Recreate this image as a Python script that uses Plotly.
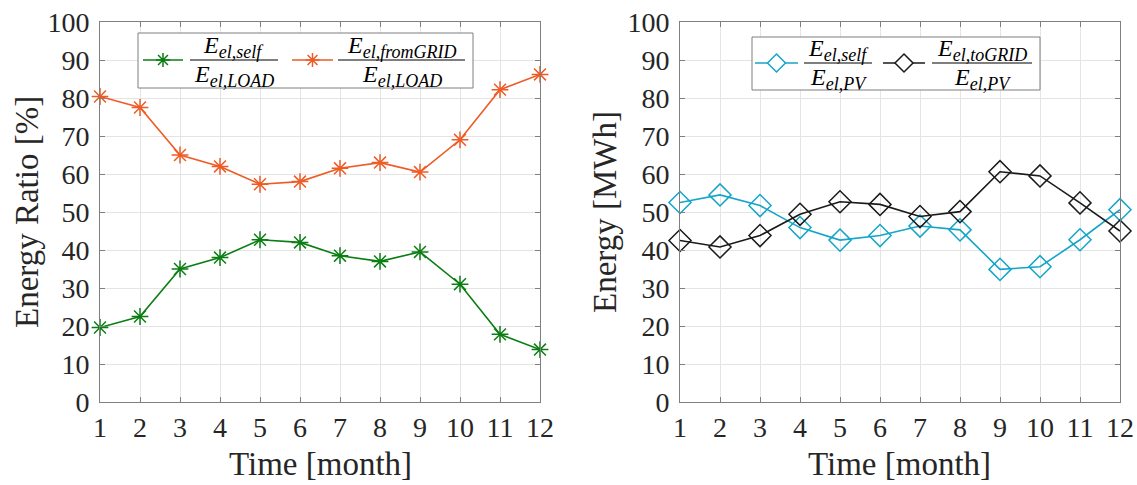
import math
import plotly.graph_objects as go

W, H = 1137, 485
months = list(range(1, 13))
self_load = [19.6, 22.5, 35.0, 38.0, 42.7, 42.0, 38.5, 37.0, 39.5, 31.0, 17.8, 13.8]
grid_load = [80.4, 77.5, 65.0, 62.0, 57.3, 58.0, 61.5, 63.0, 60.5, 69.0, 82.2, 86.2]
self_pv = [52.5, 54.5, 51.7, 45.9, 42.6, 43.8, 46.3, 45.3, 34.9, 35.6, 42.7, 50.6]
togrid_pv = [42.5, 40.8, 43.8, 49.4, 52.7, 52.0, 48.8, 50.1, 60.6, 59.5, 52.4, 45.0]
yticks = list(range(0, 101, 10))

GREEN = "#0b7e13"
ORANGE = "#ee5b25"
CYAN = "#14a5c8"
BLACK = "#1a1a1a"
TXT = "#262626"
FONT = "Liberation Serif"

def px(x):
    return x / W

def py(y):
    return 1 - y / H

fig = go.Figure()
fig.add_trace(go.Scatter(x=months, y=self_load, mode="lines+markers", xaxis="x", yaxis="y",
                         line=dict(color=GREEN, width=1.6),
                         marker=dict(symbol="asterisk-open", size=14, line=dict(color=GREEN, width=1.5))))
fig.add_trace(go.Scatter(x=months, y=grid_load, mode="lines+markers", xaxis="x", yaxis="y",
                         line=dict(color=ORANGE, width=1.6),
                         marker=dict(symbol="asterisk-open", size=14, line=dict(color=ORANGE, width=1.5))))
fig.add_trace(go.Scatter(x=months, y=self_pv, mode="lines+markers", xaxis="x2", yaxis="y2",
                         line=dict(color=CYAN, width=1.6),
                         marker=dict(symbol="diamond-open", size=17, line=dict(color=CYAN, width=1.5))))
fig.add_trace(go.Scatter(x=months, y=togrid_pv, mode="lines+markers", xaxis="x2", yaxis="y2",
                         line=dict(color=BLACK, width=1.6),
                         marker=dict(symbol="diamond-open", size=17, line=dict(color=BLACK, width=1.5))))
for tr in fig.data:
    tr.cliponaxis = False

axis_common = dict(range=[1, 12], tickvals=months, showgrid=True, gridcolor="#e4e4e4", gridwidth=1,
                   showline=True, linecolor="#7f7f7f", linewidth=1, mirror="ticks", ticks="inside",
                   ticklen=5, tickcolor="#7f7f7f", zeroline=False, automargin=False,
                   tickfont=dict(family=FONT, size=28, color=TXT))
yaxis_common = dict(range=[0, 100], tickvals=yticks, showgrid=True, gridcolor="#e4e4e4", gridwidth=1,
                    showline=True, linecolor="#7f7f7f", linewidth=1, mirror="ticks", ticks="inside",
                    ticklen=5, tickcolor="#7f7f7f", zeroline=False, automargin=False,
                    ticklabelstandoff=4,
                    tickfont=dict(family=FONT, size=28, color=TXT))

fig.update_layout(
    width=W, height=H, margin=dict(l=0, r=0, t=0, b=0),
    paper_bgcolor="white", plot_bgcolor="white", showlegend=False,
    xaxis=dict(domain=[px(100), px(540)], anchor="y", **axis_common),
    yaxis=dict(domain=[py(402), py(22)], anchor="x", **yaxis_common),
    xaxis2=dict(domain=[px(680), px(1120)], anchor="y2", **axis_common),
    yaxis2=dict(domain=[py(402), py(22)], anchor="x2", **yaxis_common),
)

shapes = []
annotations = []

# axis titles
title_font = dict(family=FONT, size=33, color=TXT)
annotations.append(dict(text="Time [month]", x=px(320), y=py(464), xref="paper", yref="paper", showarrow=False,
                        xanchor="center", yanchor="middle", font=title_font))
annotations.append(dict(text="Time [month]", x=px(900), y=py(464), xref="paper", yref="paper", showarrow=False,
                        xanchor="center", yanchor="middle", font=title_font))
annotations.append(dict(text="Energy Ratio [%]", x=px(27), y=py(212), xref="paper", yref="paper", showarrow=False,
                        xanchor="center", yanchor="middle", textangle=-90, font=title_font))
annotations.append(dict(text="Energy [MWh]", x=px(605), y=py(212), xref="paper", yref="paper", showarrow=False,
                        xanchor="center", yanchor="middle", textangle=-90, font=title_font))

# legend boxes
for x0, y0, x1, y1 in [(138, 33, 473, 88), (752, 37, 1040, 90)]:
    shapes.append(dict(type="rect", xref="paper", yref="paper", x0=px(x0), x1=px(x1), y0=py(y1), y1=py(y0),
                       line=dict(color="#7f7f7f", width=1), fillcolor="white", layer="above"))

def asterisk(cx, cy, r):
    d = r * math.sqrt(0.5)
    segs = [(0, r), (r, 0), (d, d), (d, -d)]
    p = ""
    for dx, dy in segs:
        p += "M%f,%f L%f,%f " % (px(cx - dx), py(cy - dy), px(cx + dx), py(cy + dy))
    return p

def diamond(cx, cy, r):
    return "M%f,%f L%f,%f L%f,%f L%f,%f Z" % (px(cx), py(cy - r), px(cx + r), py(cy),
                                             px(cx), py(cy + r), px(cx - r), py(cy))

leg_samples = [(143, 183, 60, GREEN, "ast"),
               (292, 333, 60, ORANGE, "ast"),
               (755, 798, 63, CYAN, "dia"),
               (883, 925, 63, BLACK, "dia")]
for x0, x1, yy, c, sym in leg_samples:
    shapes.append(dict(type="line", xref="paper", yref="paper", x0=px(x0), x1=px(x1), y0=py(yy), y1=py(yy),
                       line=dict(color=c, width=1.6), layer="above"))
    cx = (x0 + x1) / 2
    path = asterisk(cx, yy, 7) if sym == "ast" else diamond(cx, yy, 9)
    shapes.append(dict(type="path", xref="paper", yref="paper", path=path,
                       line=dict(color=c, width=1.5),
                       fillcolor="rgba(0,0,0,0)" if sym == "ast" else "white", layer="above"))

def E(sub):
    return "<i>E</i><sub><span style='font-size:18px'><i>%s</i></span></sub>" % sub

fracs = [(190, 278, 60, "el,self", "el,LOAD"),
         (338, 465, 60, "el,fromGRID", "el,LOAD"),
         (804, 872, 63, "el,self", "el,PV"),
         (932, 1032, 63, "el,toGRID", "el,PV")]
for x0, x1, yb, num, den in fracs:
    shapes.append(dict(type="line", xref="paper", yref="paper", x0=px(x0), x1=px(x1), y0=py(yb), y1=py(yb),
                       line=dict(color="black", width=1.2), layer="above"))
    cx = px((x0 + x1) / 2)
    annotations.append(dict(text=E(num), x=cx, y=py(yb - 13), xref="paper", yref="paper", showarrow=False,
                            xanchor="center", yanchor="middle", font=dict(family=FONT, size=24, color="black")))
    annotations.append(dict(text=E(den), x=cx, y=py(yb + 16), xref="paper", yref="paper", showarrow=False,
                            xanchor="center", yanchor="middle", font=dict(family=FONT, size=24, color="black")))

fig.update_layout(shapes=shapes, annotations=annotations)
fig.write_html("out.html")
